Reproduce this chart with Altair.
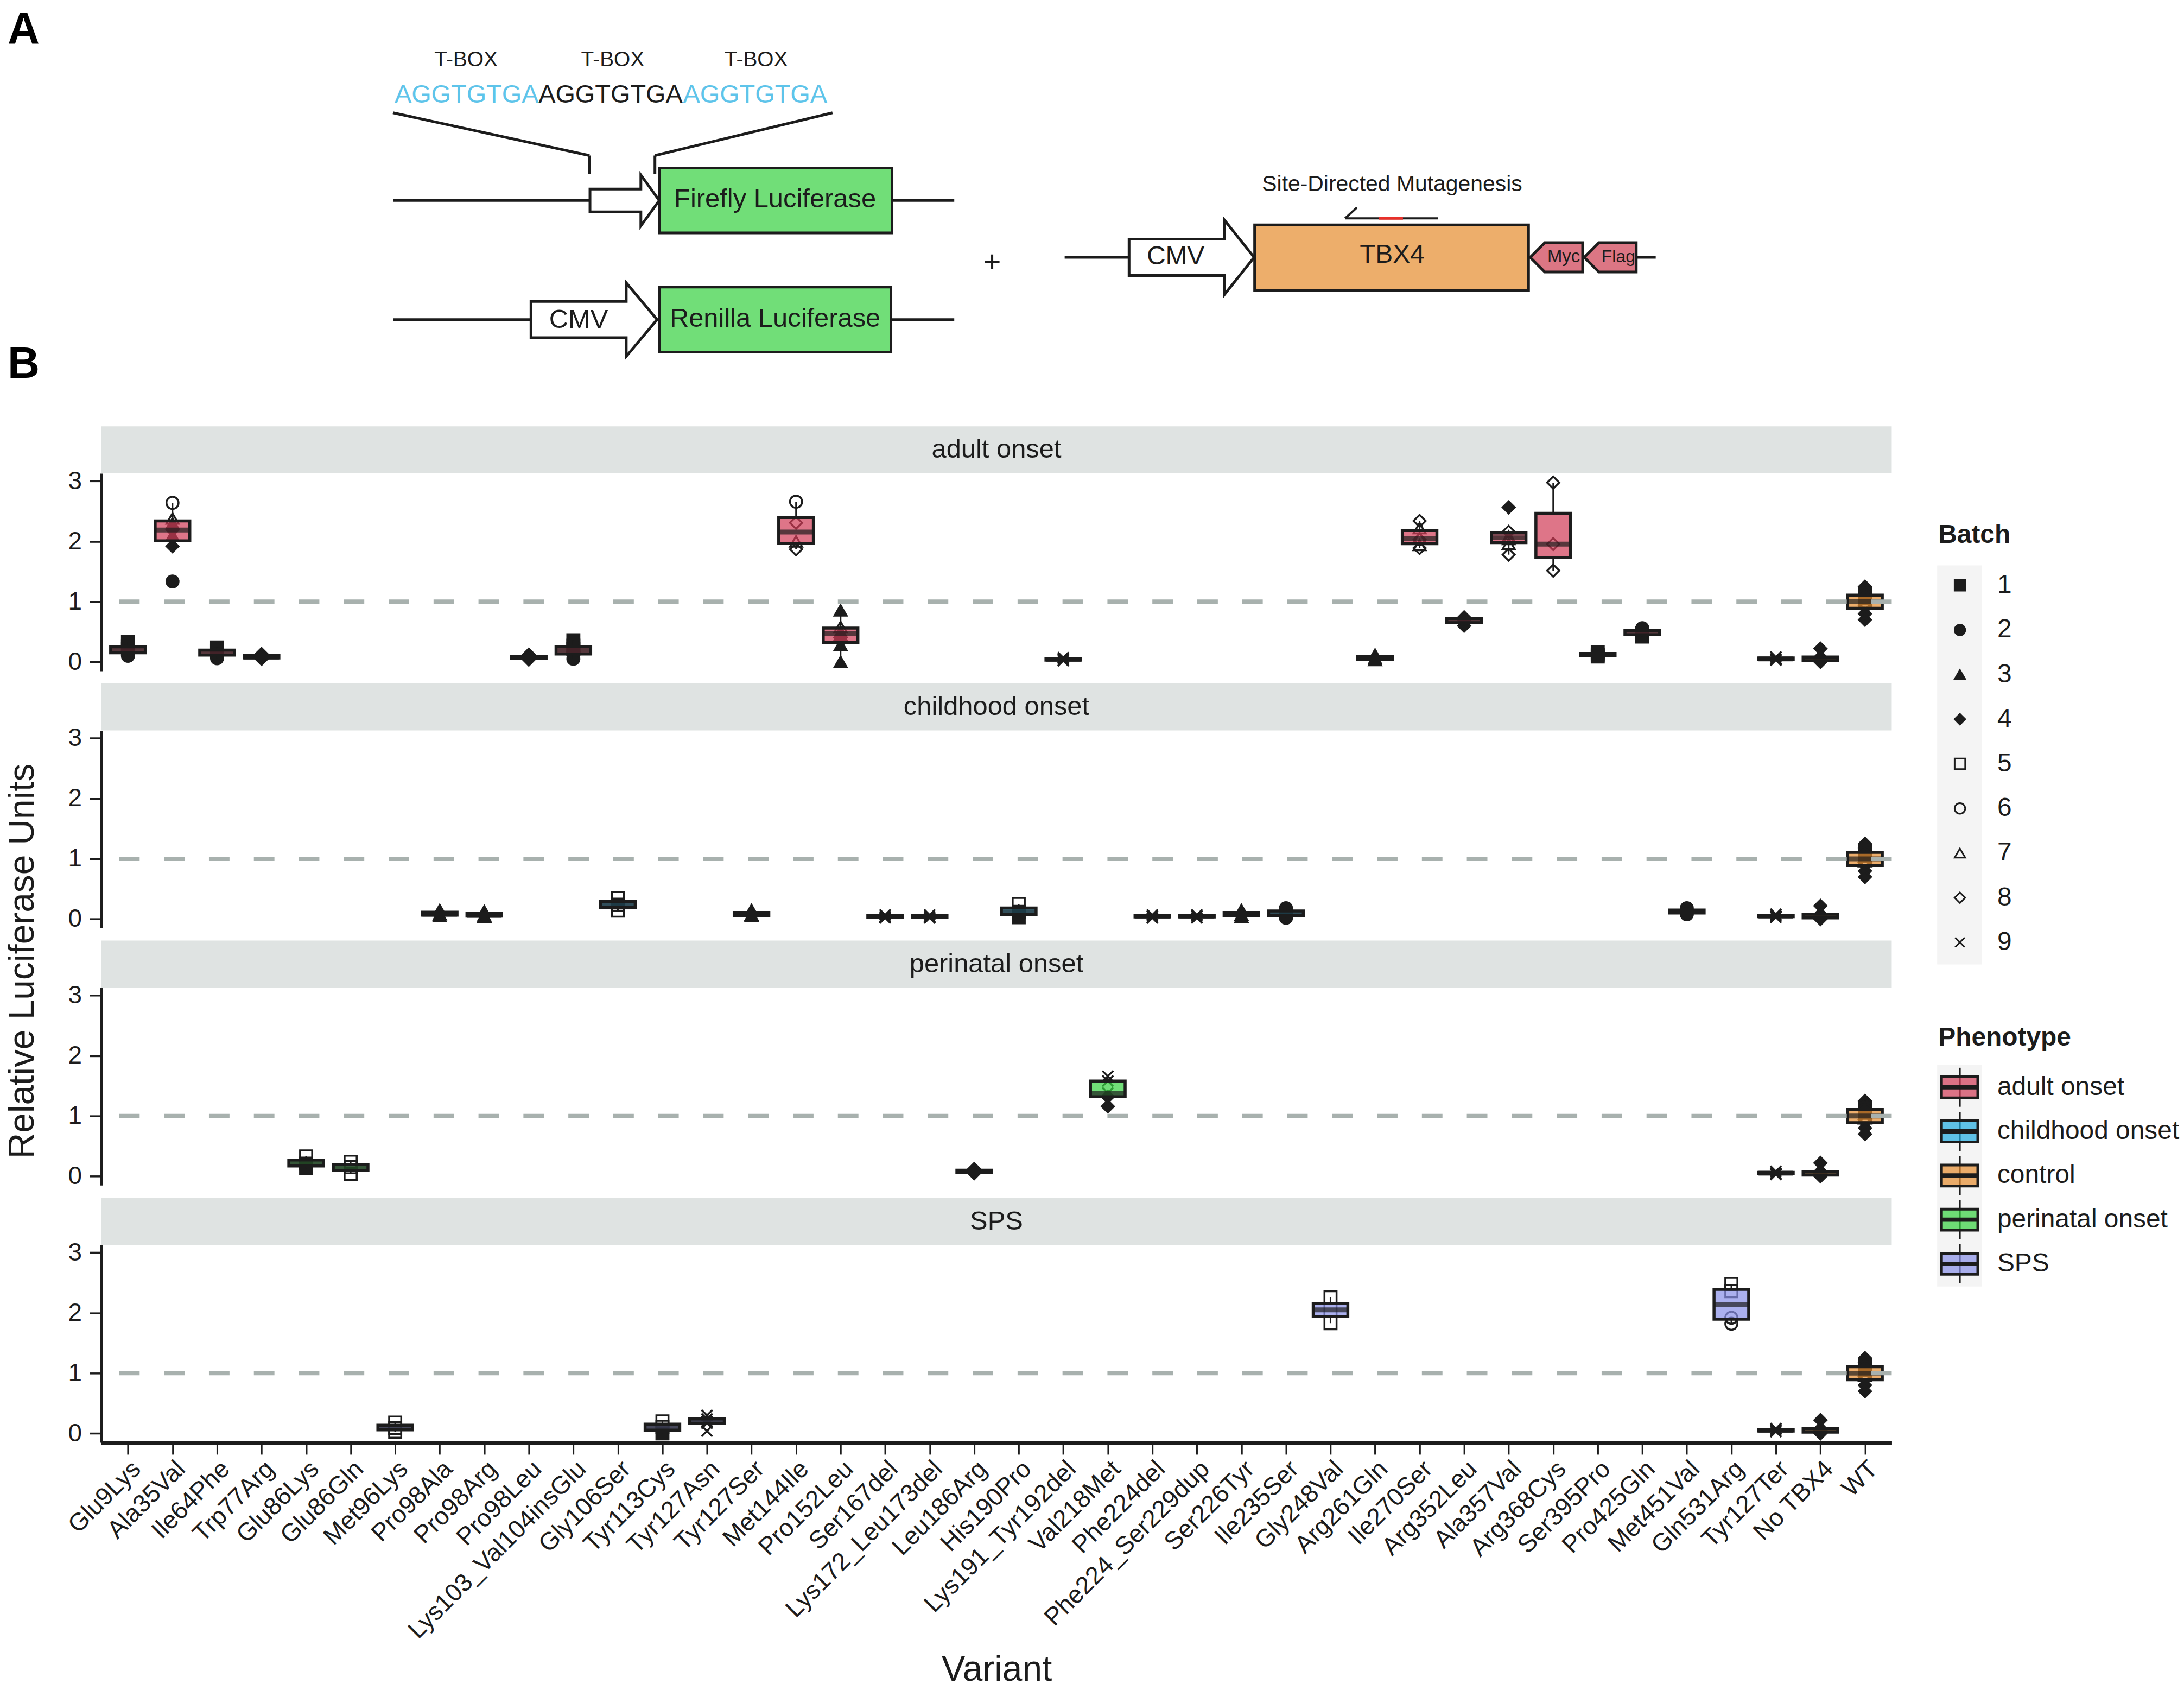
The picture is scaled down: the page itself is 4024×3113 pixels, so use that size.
import altair as alt
import pandas as pd

# ---------------------------------------------------------------- categories
variants = ["Glu9Lys", "Ala35Val", "Ile64Phe", "Trp77Arg", "Glu86Lys", "Glu86Gln",
            "Met96Lys", "Pro98Ala", "Pro98Arg", "Pro98Leu", "Lys103_Val104insGlu",
            "Gly106Ser", "Tyr113Cys", "Tyr127Asn", "Tyr127Ser", "Met144Ile",
            "Pro152Leu", "Ser167del", "Lys172_Leu173del", "Leu186Arg", "His190Pro",
            "Lys191_Tyr192del", "Val218Met", "Phe224del", "Phe224_Ser229dup",
            "Ser226Tyr", "Ile235Ser", "Gly248Val", "Arg261Gln", "Ile270Ser",
            "Arg352Leu", "Ala357Val", "Arg368Cys", "Ser395Pro", "Pro425Gln",
            "Met451Val", "Gln531Arg", "Tyr127Ter", "No TBX4", "WT"]
panels = ["adult onset", "childhood onset", "perinatal onset", "SPS"]
phenotypes = ["adult onset", "childhood onset", "control", "perinatal onset", "SPS"]
batch_labels = ["1", "2", "3", "4", "5", "6", "7", "8", "9"]

# ---------------------------------------------------------------- observations
adult_variants = ["Glu9Lys", "Ala35Val", "Ile64Phe", "Trp77Arg", "Pro98Leu",
                  "Lys103_Val104insGlu", "Met144Ile", "Pro152Leu", "Lys191_Tyr192del",
                  "Arg261Gln", "Ile270Ser", "Arg352Leu", "Ala357Val", "Arg368Cys",
                  "Ser395Pro", "Pro425Gln"]
adult_batches = [[1, 1, 1, 2, 2, 2], [6, 7, 3, 4, 3, 4, 2], [1, 1, 2, 2], [4, 4, 4],
                 [4, 4, 4], [1, 1, 1, 2, 2, 2], [6, 8, 7, 8], [3, 7, 7, 3, 3, 3],
                 [9, 9, 9], [3, 3, 3], [8, 7, 7, 8, 7, 8], [4, 4, 4],
                 [4, 8, 7, 7, 7, 8], [8, 8, 8], [1, 1, 1], [2, 1, 1]]
adult_values = [[0.33, 0.26, 0.22, 0.18, 0.14, 0.10],
                [2.64, 2.38, 2.30, 2.19, 2.10, 1.92, 1.335],
                [0.24, 0.18, 0.13, 0.06], [0.13, 0.08, 0.05], [0.12, 0.07, 0.04],
                [0.36, 0.27, 0.22, 0.16, 0.12, 0.05], [2.66, 2.31, 2.00, 1.87],
                [0.855, 0.58, 0.50, 0.45, 0.28, 0.0], [0.07, 0.04, 0.02],
                [0.12, 0.06, 0.03], [2.34, 2.22, 2.06, 2.03, 1.94, 1.89],
                [0.74, 0.70, 0.60], [2.565, 2.16, 2.08, 2.04, 1.96, 1.78],
                [2.976, 1.956, 1.515], [0.16, 0.12, 0.09], [0.56, 0.48, 0.42]]

childhood_variants = ["Pro98Ala", "Pro98Arg", "Gly106Ser", "Tyr127Ser", "Ser167del",
                      "Lys172_Leu173del", "His190Pro", "Phe224del", "Phe224_Ser229dup",
                      "Ser226Tyr", "Ile235Ser", "Met451Val"]
childhood_batches = [[3, 3, 3], [3, 3, 3], [5, 5, 5], [3, 3, 3], [9, 9, 9], [9, 9, 9],
                     [5, 5, 1], [9, 9, 9], [9, 9, 9], [3, 3, 3], [2, 2, 2], [2, 2, 2]]
childhood_values = [[0.15, 0.08, 0.05], [0.13, 0.06, 0.04], [0.35, 0.24, 0.14],
                    [0.15, 0.07, 0.05], [0.07, 0.04, 0.02], [0.07, 0.04, 0.02],
                    [0.25, 0.12, 0.03], [0.07, 0.05, 0.02], [0.07, 0.05, 0.02],
                    [0.15, 0.07, 0.04], [0.18, 0.09, 0.02], [0.18, 0.12, 0.08]]

perinatal_variants = ["Glu86Lys", "Glu86Gln", "Leu186Arg", "Val218Met"]
perinatal_batches = [[5, 5, 1], [5, 5, 5], [4, 4, 4], [9, 9, 9, 4, 4]]
perinatal_values = [[0.33, 0.21, 0.13], [0.24, 0.15, 0.04], [0.12, 0.08, 0.05],
                    [1.66, 1.58, 1.38, 1.32, 1.16]]

sps_variants = ["Met96Lys", "Tyr113Cys", "Tyr127Asn", "Gly248Val", "Gln531Arg"]
sps_batches = [[5, 5, 5], [5, 5, 1], [9, 9, 9, 9, 9], [5, 5, 5], [5, 5, 6, 6]]
sps_values = [[0.18, 0.09, 0.03], [0.20, 0.11, 0.0], [0.30, 0.24, 0.20, 0.17, 0.04],
              [2.26, 2.05, 1.83], [2.48, 2.36, 1.92, 1.82]]

control_variants = ["Tyr127Ter", "No TBX4", "WT"]
control_batches = [[9, 9, 9], [4, 4, 4, 4, 4], [4, 4, 1, 2, 3, 5, 6, 7, 8, 9, 4, 4]]
control_values = [[0.08, 0.05, 0.03], [0.22, 0.08, 0.05, 0.02, 0.0],
                  [1.25, 1.18, 1.13, 1.10, 1.04, 1.0, 1.0, 0.96, 0.90, 0.86, 0.80, 0.70]]

reference_level = [1.0]

# ---------------------------------------------------------------- style
FONT = "Liberation Sans"
INK = "#1c1c1c"
phenotype_colors = ["#DE7689", "#62C4E9", "#EDAE6C", "#71DE78", "#ABB0EE"]
BOX_ALPHA = 0.7


def under_alpha(hexcol, a):
    h = hexcol.lstrip("#")
    rgb = [int(h[i:i + 2], 16) for i in (0, 2, 4)]
    out = [max(0, min(255, round(255 - (255 - c) / a))) for c in rgb]
    return "#%02X%02X%02X" % tuple(out)


box_fills = [under_alpha(c, BOX_ALPHA) for c in phenotype_colors]
X_PATH = "M-0.9,-0.9L0.9,0.9M-0.9,0.9L0.9,-0.9"
batch_shapes = ["square", "circle", "triangle-up", "diamond",
                "square", "circle", "triangle-up", "diamond", X_PATH]
batch_fills = [INK] * 4 + ["transparent"] * 4 + [INK]
STRIP_FILL = "#DFE3E2"
REF_COLOR = "#A8B1AE"
POINT_SIZE = 500

# layout (pixels)
W_TOTAL = 4000
DIAG_H = 765
PW, PH, SH = 3308, 365, 87
PANEL_SPACING = 16
YT_W = 56
H_SPACING = 41
LEG_OFF = 80 - H_SPACING
LEG_W = 483
STACK_H = 4 * (SH + PH) + 3 * 22

# ---------------------------------------------------------------- data table
rows = []
groups = [("adult onset", adult_variants, adult_batches, adult_values),
          ("childhood onset", childhood_variants, childhood_batches, childhood_values),
          ("perinatal onset", perinatal_variants, perinatal_batches, perinatal_values),
          ("SPS", sps_variants, sps_batches, sps_values)]
for panel, vs, bs, vals in groups:
    for v, bl, vl in zip(vs, bs, vals):
        for b, y in zip(bl, vl):
            rows.append(dict(panel=panel, variant=v, phenotype=panel, batch=str(b), value=y))
    for v, bl, vl in zip(control_variants, control_batches, control_values):
        for b, y in zip(bl, vl):
            rows.append(dict(panel=panel, variant=v, phenotype="control", batch=str(b), value=y))
obs = pd.DataFrame(rows)

x_scale = alt.Scale(type="point", domain=variants, padding=0.6)
y_scale = alt.Scale(domain=[-0.15, 3.13], nice=False, zero=False)
color_scale = alt.Scale(domain=phenotypes, range=box_fills)
shape_scale = alt.Scale(domain=batch_labels, range=batch_shapes)
fill_scale = alt.Scale(domain=batch_labels, range=batch_fills)

y_axis = alt.Axis(title=None, values=[0, 1, 2, 3], labelFontSize=46, labelColor=INK,
                  tickSize=22, tickWidth=3.5, tickColor=INK, domainColor=INK,
                  domainWidth=4, labelPadding=14, grid=False)


def panel_chart(name, bottom):
    sub = obs[obs["panel"] == name]
    if bottom:
        x_axis = alt.Axis(title="Variant", labelAngle=-45, labelAlign="right",
                          labelBaseline="top", labelFontSize=46, labelLimit=2000,
                          labelOverlap=False, labelPadding=4, labelColor=INK,
                          tickSize=22, tickWidth=3, tickColor=INK, domainColor=INK,
                          domainWidth=7, titleFontSize=66, titleFontWeight="normal",
                          titleColor=INK, titleBaseline="alphabetic", titleY=440,
                          grid=False)
    else:
        x_axis = None
    X = alt.X("variant:N", scale=x_scale, axis=x_axis)
    Y = alt.Y("value:Q", scale=y_scale, axis=y_axis)
    label = pd.DataFrame({"panel": [name]})
    strip_bg = alt.Chart(label).mark_rect(color=STRIP_FILL).encode(
        x=alt.value(0), x2=alt.value(PW), y=alt.value(-SH), y2=alt.value(0))
    strip_tx = alt.Chart(label).mark_text(fontSize=49, color=INK).encode(
        x=alt.value(PW / 2), y=alt.value(-SH / 2), text="panel:N")
    pts = alt.Chart(sub).mark_point(size=POINT_SIZE, strokeWidth=3.5, stroke=INK,
                                    opacity=1).encode(
        x=X, y=Y,
        shape=alt.Shape("batch:N", scale=shape_scale, legend=None),
        fill=alt.Fill("batch:N", scale=fill_scale, legend=None))
    box = alt.Chart(sub).mark_boxplot(
        extent=1.5, size=64, outliers=False, ticks=False,
        box={"stroke": INK, "strokeWidth": 5.5, "fillOpacity": BOX_ALPHA},
        median={"color": INK, "thickness": 9},
        rule={"color": INK, "strokeWidth": 3}).encode(
        x=X, y=Y, color=alt.Color("phenotype:N", scale=color_scale, legend=None))
    ref = alt.Chart(pd.DataFrame({"value": reference_level})).mark_rule(
        color=REF_COLOR, strokeWidth=8, strokeDash=[38, 45]).encode(y=Y)
    return alt.layer(strip_bg, strip_tx, pts, box, ref).properties(width=PW, height=PH)


stack = alt.vconcat(*[panel_chart(p, i == len(panels) - 1) for i, p in enumerate(panels)],
                    spacing=PANEL_SPACING)

# ---------------------------------------------------------------- y title
ytitle = alt.Chart(pd.DataFrame({"t": ["Relative Luciferase Units"]})).mark_text(
    angle=270, fontSize=66, color=INK).encode(
    x=alt.value(32), y=alt.value(988 - SH), text="t:N").properties(width=YT_W, height=STACK_H - SH)

# ---------------------------------------------------------------- legends (drawn)
# vertical positions are measured from the top of the first strip
lx = alt.Scale(domain=[0, LEG_W], nice=False, zero=False)
ly = alt.Scale(domain=[SH, STACK_H], nice=False, zero=False, reverse=True)
batch_y0, batch_step = 294, 82.4
pheno_y0, pheno_step = 1221, 81.5

leg_bg = pd.DataFrame({"x": [LEG_OFF, LEG_OFF], "x2": [LEG_OFF + 83, LEG_OFF + 83],
                       "y": [257, 1179], "y2": [994, 1589]})
leg_titles = pd.DataFrame({"x": [LEG_OFF + 2, LEG_OFF + 2], "y": [201, 1130],
                           "t": ["Batch", "Phenotype"]})
leg_batch = pd.DataFrame({"batch": batch_labels,
                          "y": [batch_y0 + batch_step * i for i in range(len(batch_labels))]})
leg_batch["x"] = LEG_OFF + 42
leg_batch["lx"] = LEG_OFF + 111
leg_pheno = pd.DataFrame({"phenotype": phenotypes,
                          "y": [pheno_y0 + pheno_step * i for i in range(len(phenotypes))]})
leg_pheno["x"] = LEG_OFF + 42
leg_pheno["bx"] = LEG_OFF + 8
leg_pheno["bx2"] = LEG_OFF + 75
leg_pheno["wy"] = leg_pheno["y"] - 36
leg_pheno["wy2"] = leg_pheno["y"] + 36
leg_pheno["by"] = leg_pheno["y"] - 19.5
leg_pheno["by2"] = leg_pheno["y"] + 19.5
leg_pheno["lx"] = LEG_OFF + 111

LXe = lambda f: alt.X(f, scale=lx, axis=None)
LYe = lambda f: alt.Y(f, scale=ly, axis=None)

legend = alt.layer(
    alt.Chart(leg_bg).mark_rect(color="#F4F4F4").encode(
        x=LXe("x:Q"), x2="x2:Q", y=LYe("y:Q"), y2="y2:Q"),
    alt.Chart(leg_titles).mark_text(fontSize=48, fontWeight="bold", align="left",
                                    baseline="middle", color=INK).encode(
        x=LXe("x:Q"), y=LYe("y:Q"), text="t:N"),
    alt.Chart(leg_batch).mark_point(size=380, strokeWidth=3, stroke=INK, opacity=1).encode(
        x=LXe("x:Q"), y=LYe("y:Q"),
        shape=alt.Shape("batch:N", scale=shape_scale, legend=None),
        fill=alt.Fill("batch:N", scale=fill_scale, legend=None)),
    alt.Chart(leg_batch).mark_text(fontSize=48, align="left", baseline="middle",
                                   color=INK).encode(
        x=LXe("lx:Q"), y=LYe("y:Q"), text="batch:N"),
    alt.Chart(leg_pheno).mark_rule(color=INK, strokeWidth=3).encode(
        x=LXe("x:Q"), y=LYe("wy:Q"), y2="wy2:Q"),
    alt.Chart(leg_pheno).mark_rect(stroke=INK, strokeWidth=5, fillOpacity=BOX_ALPHA).encode(
        x=LXe("bx:Q"), x2="bx2:Q", y=LYe("by:Q"), y2="by2:Q",
        color=alt.Color("phenotype:N", scale=color_scale, legend=None)),
    alt.Chart(leg_pheno).mark_rule(color=INK, strokeWidth=8).encode(
        x=LXe("bx:Q"), x2="bx2:Q", y=LYe("y:Q")),
    alt.Chart(leg_pheno).mark_text(fontSize=48, align="left", baseline="middle",
                                   color=INK).encode(
        x=LXe("lx:Q"), y=LYe("y:Q"), text="phenotype:N"),
).properties(width=LEG_W, height=STACK_H - SH)

# ---------------------------------------------------------------- panel A schematic
dia_lines = [(724, 204, 1087, 283), (1087, 283, 1087, 317),
             (1536, 204, 1208, 283), (1208, 283, 1208, 317),
             (724, 366, 1088, 366), (1646, 366, 1761, 366),
             (724, 586, 979, 586), (1644, 586, 1761, 586),
             (1965, 471, 2084, 471), (3021, 471, 3057, 471)]
primer_lines = [(2483, 399, 2655, 399), (2483, 399, 2505, 379)]
primer_site = [(2546, 399, 2590, 399)]
green_boxes = [(1216, 306, 1646, 426), (1216, 526, 1644, 646)]
orange_boxes = [(2316, 411, 2822, 532)]
arrow_specs = [(1088, 1182, 1216, 366, 21, 47), (979, 1155, 1212, 586, 33.5, 68),
               (2084, 2260, 2315, 471, 33.5, 69)]
tag_polys = [[(2825, 471), (2852, 444), (2922, 444), (2922, 498), (2852, 498)],
             [(2925, 471), (2952, 444), (3021, 444), (3021, 498), (2952, 498)]]
dia_texts = [("T-BOX", 859, 106, 39), ("T-BOX", 1130, 106, 39), ("T-BOX", 1395, 106, 39),
             ("AGGTGTGA", 1126, 171, 47),
             ("Firefly Luciferase", 1430, 364, 49), ("Renilla Luciferase", 1430, 584, 49),
             ("CMV", 1067, 586, 49), ("+", 1831, 481, 56), ("CMV", 2170, 470, 48),
             ("TBX4", 2570, 467, 48), ("Myc", 2887, 470, 33), ("Flag", 2988, 470, 32),
             ("Site-Directed Mutagenesis", 2570, 337, 41)]
dia_blue_texts = [("AGGTGTGA", 860, 171, 47), ("AGGTGTGA", 1393, 171, 47)]
dia_bold_texts = [("A", 12, 76, 82), ("B", 12, 694, 82)]

dx = alt.Scale(domain=[8, 8 + W_TOTAL], nice=False, zero=False)
dy = alt.Scale(domain=[8, 8 + DIAG_H], nice=False, zero=False, reverse=True)
DX = lambda f: alt.X(f, scale=dx, axis=None)
DY = lambda f: alt.Y(f, scale=dy, axis=None)


def seg_df(items):
    return pd.DataFrame(items, columns=["x", "y", "x2", "y2"])


def txt_df(items):
    return pd.DataFrame(items, columns=["t", "x", "y", "fs"])


def poly_shape(points):
    xs = [p[0] for p in points]
    ys = [p[1] for p in points]
    cx, cy = (min(xs) + max(xs)) / 2, (min(ys) + max(ys)) / 2
    half = max(max(xs) - min(xs), max(ys) - min(ys)) / 2
    path = "M" + "L".join("%.4f,%.4f" % ((x - cx) / half, (y - cy) / half)
                          for x, y in points) + "Z"
    return cx, cy, path, (2 * half) ** 2


def arrow_points(x0, xb, xt, cy, bh, hh):
    return [(x0, cy - bh), (xb, cy - bh), (xb, cy - hh), (xt, cy),
            (xb, cy + hh), (xb, cy + bh), (x0, cy + bh)]


dia_layers = [
    alt.Chart(seg_df(dia_lines)).mark_rule(color=INK, strokeWidth=5).encode(
        x=DX("x:Q"), y=DY("y:Q"), x2="x2:Q", y2="y2:Q"),
    alt.Chart(seg_df(primer_lines)).mark_rule(color=INK, strokeWidth=4).encode(
        x=DX("x:Q"), y=DY("y:Q"), x2="x2:Q", y2="y2:Q"),
    alt.Chart(seg_df(primer_site)).mark_rule(color="#E8302A", strokeWidth=5).encode(
        x=DX("x:Q"), y=DY("y:Q"), x2="x2:Q", y2="y2:Q"),
    alt.Chart(seg_df(green_boxes)).mark_rect(color="#71DE78", stroke=INK, strokeWidth=5).encode(
        x=DX("x:Q"), y=DY("y:Q"), x2="x2:Q", y2="y2:Q"),
    alt.Chart(seg_df(orange_boxes)).mark_rect(color="#EDAE6B", stroke=INK, strokeWidth=5).encode(
        x=DX("x:Q"), y=DY("y:Q"), x2="x2:Q", y2="y2:Q"),
]
for spec in arrow_specs:
    cx, cy, path, size = poly_shape(arrow_points(*spec))
    dia_layers.append(alt.Chart(pd.DataFrame({"x": [cx], "y": [cy]})).mark_point(
        shape=path, size=size, filled=True, fill="white", stroke=INK, strokeWidth=5,
        opacity=1).encode(x=DX("x:Q"), y=DY("y:Q")))
for poly in tag_polys:
    cx, cy, path, size = poly_shape(poly)
    dia_layers.append(alt.Chart(pd.DataFrame({"x": [cx], "y": [cy]})).mark_point(
        shape=path, size=size, filled=True, fill="#DC7684", stroke=INK, strokeWidth=5,
        opacity=1).encode(x=DX("x:Q"), y=DY("y:Q")))
dia_layers += [
    alt.Chart(txt_df(dia_texts)).mark_text(color=INK, baseline="middle").encode(
        x=DX("x:Q"), y=DY("y:Q"), text="t:N", size=alt.Size("fs:Q", scale=None)),
    alt.Chart(txt_df(dia_blue_texts)).mark_text(color="#5EC4EA", baseline="middle").encode(
        x=DX("x:Q"), y=DY("y:Q"), text="t:N", size=alt.Size("fs:Q", scale=None)),
    alt.Chart(txt_df(dia_bold_texts)).mark_text(color="black", fontWeight="bold",
                                                align="left", baseline="alphabetic").encode(
        x=DX("x:Q"), y=DY("y:Q"), text="t:N", size=alt.Size("fs:Q", scale=None)),
]
diagram = alt.layer(*dia_layers).properties(width=W_TOTAL, height=DIAG_H)

# ---------------------------------------------------------------- assemble
body = alt.hconcat(ytitle, stack, legend, spacing=H_SPACING)
chart = alt.vconcat(diagram, body, spacing=10).properties(
    padding=0, background="white").configure(font=FONT).configure_view(strokeWidth=0)

chart.save("out.html", embed_options={"renderer": "svg", "actions": False})
